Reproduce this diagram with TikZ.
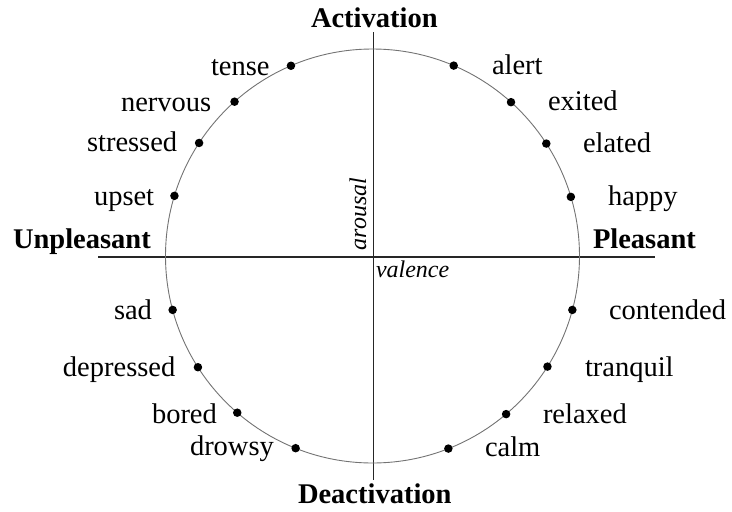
\documentclass[tikz,border=0pt]{standalone}
\usepackage{fontspec}
\setmainfont{Liberation Serif}
\usetikzlibrary{calc}
\begin{document}
\begin{tikzpicture}[x=1pt,y=-1pt,
  word/.style={inner sep=0pt,outer sep=0pt,anchor=base west,font=\fontsize{28.5}{30}\selectfont},
  pole/.style={word,font=\fontsize{28.5}{30}\selectfont\bfseries},
  axisname/.style={inner sep=0pt,outer sep=0pt,font=\fontsize{24}{26}\selectfont\itshape},
  dot/.style={circle,fill=black,inner sep=0pt,minimum size=8.5pt},
  axisline/.style={line width=1.1pt,draw=black!85},
  ring/.style={line width=0.9pt,draw=black!55}]
\useasboundingbox (0,0) rectangle (732,512);
\coordinate (c) at (372.5,256);
% axes
\coordinate (xl) at (98,257);
\coordinate (xr) at (655,257);
\coordinate (yt) at (373.5,32);
\coordinate (yb) at (373.5,480);
\draw[axisline] (xl) -- (xr);
\draw[axisline] (yt) -- (yb);
% circle
\draw[ring] (c) circle[radius=207pt];
% emotion points on the circle
\foreach \n/\a in {alert/66.9, exited/48.0, elated/32.9, happy/16.6,
                   contended/-15.1, tranquil/-32.3, relaxed/-49.8, calm/-68.5,
                   tense/113.2, nervous/131.8, stressed/146.9, upset/163.1,
                   sad/195.1, depressed/212.5, bored/229.2, drowsy/248.2}
  \node[dot] (d-\n) at ($(c)+(\a:207pt)$) {};
% emotion labels
\node[word] (l-alert)     at (492,74)    {alert};
\node[word] (l-exited)    at (548,110)   {exited};
\node[word] (l-elated)    at (583,152)   {elated};
\node[word] (l-happy)     at (608,205.5) {happy};
\node[word] (l-contended) at (609,319)   {contended};
\node[word] (l-tranquil)  at (585,376.5) {tranquil};
\node[word] (l-relaxed)   at (543,423)   {relaxed};
\node[word] (l-calm)      at (485,456.5) {calm};
\node[word] (l-tense)     at (211,75)    {tense};
\node[word] (l-nervous)   at (121,111.5) {nervous};
\node[word] (l-stressed)  at (87,151.5)  {stressed};
\node[word] (l-upset)     at (94,205)    {upset};
\node[word] (l-sad)       at (114,319)   {sad};
\node[word] (l-depressed) at (63,376)    {depressed};
\node[word] (l-bored)     at (152,423)   {bored};
\node[word] (l-drowsy)    at (190,455)   {drowsy};
% poles
\node[pole] (act)   at (311,27)    {Activation};
\node[pole] (deact) at (298,503)   {Deactivation};
\node[pole] (unpl)  at (13,248.5)  {Unpleasant};
\node[pole] (pl)    at (593,248.5) {Pleasant};
% axis names
\node[axisname,anchor=base west] (val) at (376,277) {valence};
\node[axisname,anchor=base west,rotate=90] (aro) at (366,250) {arousal};
\end{tikzpicture}
\end{document}
